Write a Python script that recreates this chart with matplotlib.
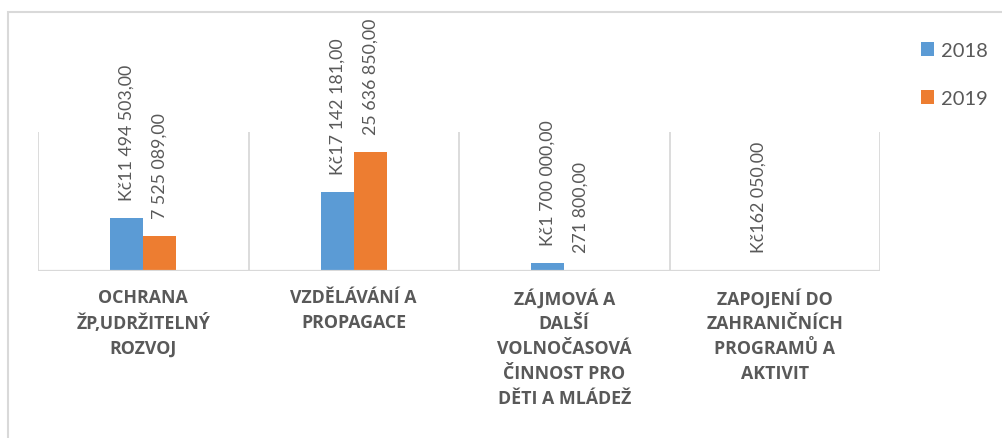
import numpy as np
import matplotlib
matplotlib.use("Agg")
import matplotlib.pyplot as plt
from matplotlib.patches import Rectangle

# Data (CZK)
categories = [
    "OCHRANA\nŽP,UDRŽITELNÝ\nROZVOJ",
    "VZDĚLÁVÁNÍ A\nPROPAGACE",
    "ZÁJMOVÁ A\nDALŠÍ\nVOLNOČASOVÁ\nČINNOST PRO\nDĚTI A MLÁDEŽ",
    "ZAPOJENÍ DO\nZAHRANIČNÍCH\nPROGRAMŮ A\nAKTIVIT",
]
series_names = ["2018", "2019"]
values_2018 = [11494503.00, 17142181.00, 1700000.00, 162050.00]
values_2019 = [7525089.00, 25636850.00, 271800.00, np.nan]
label_prefix = ["Kč", ""]

BLUE = "#5B9BD5"
ORANGE = "#ED7D31"
GRID = "#D9D9D9"
TEXT = "#595959"


def fmt_czk(v, prefix):
    # 11494503 -> "11 494 503,00"
    s = f"{v:,.2f}".replace(",", " ").replace(".", ",")
    return prefix + s


def draw_chart():
    fig = plt.figure(figsize=(10.02, 4.39), dpi=100)

    # outer chart border (only left and top are visible in the crop)
    fig.patches.append(Rectangle((8 / 1002, -0.2), 1.2, 1.2 - 13 / 439,
                                 transform=fig.transFigure, fill=False,
                                 edgecolor=GRID, linewidth=1.5))

    ax = fig.add_axes([38 / 1002, 1 - 272 / 439, (880 - 38) / 1002, (272 - 133) / 439])

    x = np.arange(len(categories))
    w = 0.157
    series = [values_2018, values_2019]
    colors = [BLUE, ORANGE]

    for i, (vals, name, col) in enumerate(zip(series, series_names, colors)):
        xs = x + (i - 0.5) * w
        ax.bar(xs, vals, width=w, color=col, label=name, zorder=3)
        for xi, v in zip(xs, vals):
            if np.isnan(v):
                continue
            ax.annotate(fmt_czk(v, label_prefix[i]), xy=(xi, v), xytext=(0, 13),
                        textcoords="offset points", rotation=90,
                        ha="center", va="bottom", color=TEXT, fontsize=12.8,
                        family=["Lato", "DejaVu Sans"])

    ax.set_xlim(-0.5, len(categories) - 0.5)
    ax.set_ylim(0, 30e6)

    # category separators + baseline
    for b in np.arange(len(categories) + 1) - 0.5:
        ax.axvline(b, color=GRID, linewidth=1.3, zorder=1)
    ax.axhline(0, color=GRID, linewidth=1.6, zorder=4)

    for s in ax.spines.values():
        s.set_visible(False)
    ax.set_yticks([])
    ax.set_xticks(x)
    ax.set_xticklabels(categories, fontsize=12.8, fontweight="bold", color=TEXT,
                       family=["Open Sans", "DejaVu Sans"], linespacing=1.5)
    ax.tick_params(axis="x", length=0, pad=12)

    leg = fig.legend(loc="upper left", bbox_to_anchor=(921 / 1002, 1 - 43 / 439),
                     frameon=False, handlelength=0.65, handleheight=0.65,
                     handletextpad=0.35, labelspacing=1.55, borderpad=0, borderaxespad=0,
                     prop={"family": ["Lato", "DejaVu Sans"], "size": 14.5})
    for t in leg.get_texts():
        t.set_color(TEXT)

    fig.savefig("out.png", dpi=100)


if __name__ == "__main__":
    draw_chart()
